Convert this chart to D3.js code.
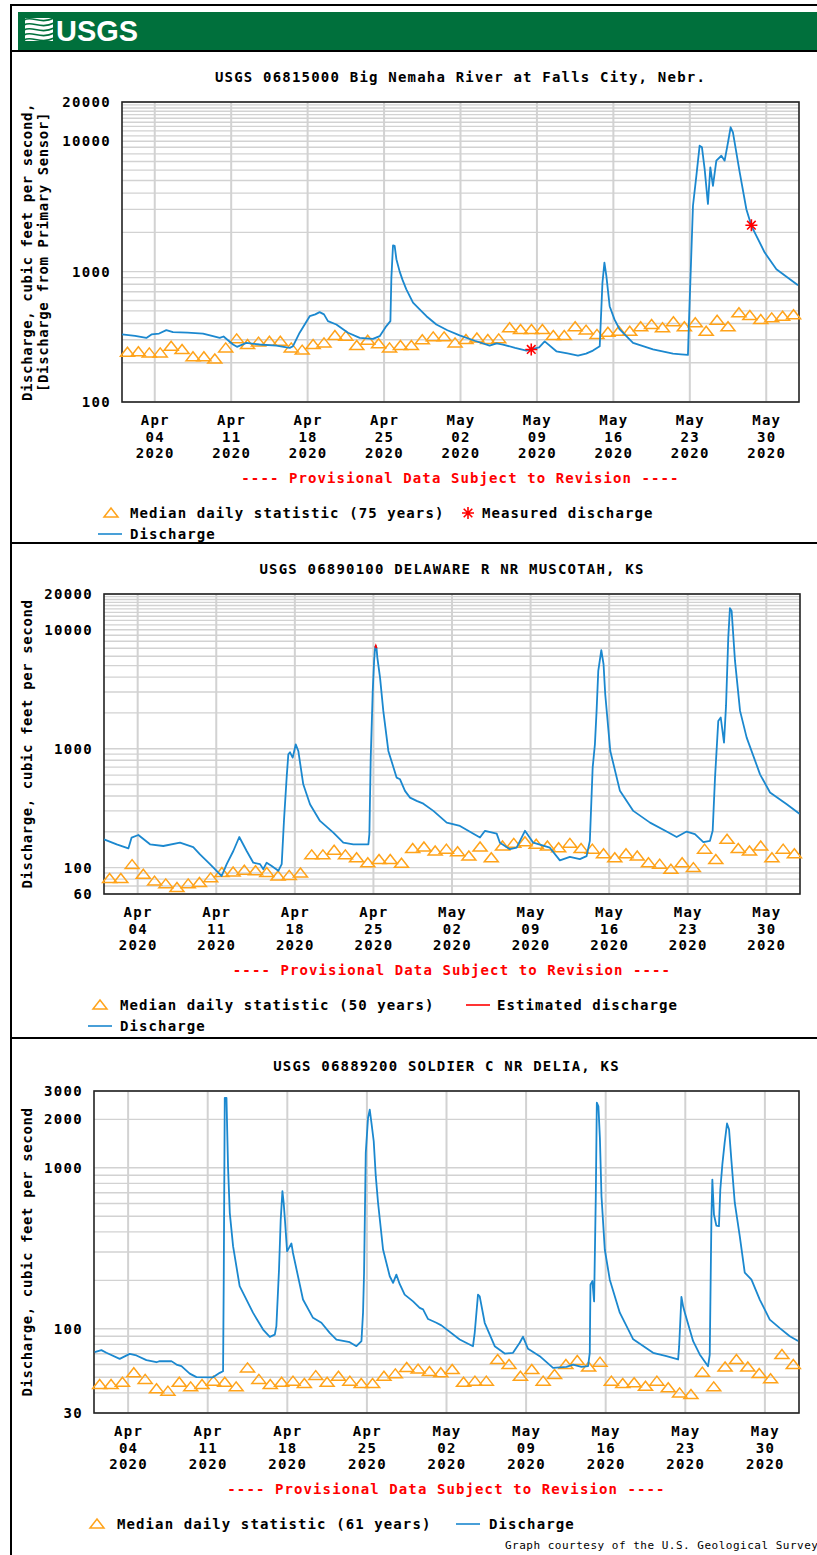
<!DOCTYPE html>
<html>
<head>
    <meta charset="UTF-8">
    <script src="https://d3js.org/d3.v7.min.js"></script>
    <style>
        body { margin: 0; background: #fff; }
        svg text { font-family: "DejaVu Sans Mono", monospace; }
        .axis text { font-size: 14px; font-weight: bold; letter-spacing: 1.3px; fill: #000; }
        .title { font-size: 14px; font-weight: bold; letter-spacing: 1.2px; }
        .ylab { font-size: 14px; font-weight: bold; letter-spacing: 0.6px; }
        .legend { font-size: 14px; font-weight: bold; letter-spacing: 1.1px; }
        .prov { font-size: 14px; font-weight: bold; letter-spacing: 1.1px; fill: #ff0000; }
        .footer { font-size: 11px; letter-spacing: 0.5px; }
        svg text.logo { font-family: "Liberation Sans", Arial, sans-serif; font-weight: bold; font-size: 30px; fill: #fff; }
    </style>
</head>
<body>
<svg id="chart" width="817" height="1555"></svg>
<script>
// ---- data (days counted from Apr 1 2020 00:00) ----
const tickDates = ["2020-04-04", "2020-04-11", "2020-04-18", "2020-04-25", "2020-05-02",
                   "2020-05-09", "2020-05-16", "2020-05-23", "2020-05-30"];

const flow1 = [[0,330],[1.2,322],[2.23,310],[2.7,330],[3.4,335],[4.06,356],[4.67,343],[6,340],[7.42,335],[8.33,320],
    [8.95,310],[9.3,318],[10.17,276],[10.53,265],[11.39,284],[12.6,276],[14.14,271],[15.36,260],[15.66,268],[16.27,340],
    [17.19,455],[17.7,470],[18.1,489],[18.5,470],[18.86,417],[19.63,393],[20.7,340],[21.77,310],[22.98,305],[23.6,320],
    [24.21,382],[24.58,417],[24.67,900],[24.82,1590],[24.97,1575],[25.13,1245],[25.43,1000],[25.7,860],[26.04,731],[26.65,578],[27.26,513],
    [27.88,455],[28.79,393],[29.8,355],[30.92,324],[32.3,295],[33.67,271],[34.3,282],[34.89,276],[36,260],[37.03,248],
    [37.48,253],[38.2,262],[38.71,292],[39.78,245],[40.8,236],[41.76,227],[42.5,235],[43.13,248],[43.75,268],[44,822],
    [44.18,1172],[44.36,925],[44.66,543],[45.1,430],[45.58,360],[46.8,284],[48.63,253],[50.46,235],[51.2,232],[51.83,230],[51.92,405],
    [52.29,3200],[52.6,5430],[52.9,9250],[53.11,9000],[53.36,6120],[53.66,3300],[53.88,6310],[54.12,4550],[54.43,7100],[54.89,7740],
    [55.19,7100],[55.5,9820],[55.74,12800],[55.95,11700],[56.57,5780],[57.18,3010],[57.64,2245],[58.86,1400],[59.93,1042],[61.91,785]];
const median1 = [241,243,238,238,268,253,222,222,214,260, 305,276,288,292,292,260,250,276,284,324,
    320,271,298,280,260,271,271,300,316,316,
    284,302,310,302,305,371,360,360,360,324, 324,378,356,330,343,349,349,378,393,371,
    412,378,405,349,424,378,483,461,429,442, 455,
    467];
const measured1 = [[37.48,253],[57.64,2270]];

const flow2 = [[0,173],[1.13,157],[2.17,145],[2.46,179],[3.06,188],[4.1,157],[5.28,152],[6.77,162],[7.95,149],[8.55,129],
    [9.44,107],[10.03,94],[10.48,85],[10.93,107],[11.52,138],[12.05,181],[12.71,138],[13.3,110],[13.9,107],[14.19,97],
    [14.49,110],[14.94,103],[15.53,94],[15.83,107],[16.03,247],[16.27,571],[16.42,897],[16.57,933],[16.81,841],[17.08,1088],
    [17.31,957],[17.75,502],[18.35,341],[19.24,247],[20.43,197],[21.32,162],[22.21,157],[23.55,157],[23.64,191],[23.76,841],
    [23.94,3060],[24.06,5470],[24.15,7100],[24.21,7330],[24.28,7000],[24.35,5840],[24.59,3960],[24.88,2080],[25.33,957],[26.07,571],
    [26.37,553],[26.81,442],[27.26,388],[27.85,364],[28.45,345],[29.34,300],[30.53,239],[31.71,224],[33.49,179],[33.94,204],
    [34.98,193],[35.27,162],[36.16,143],[36.76,147],[37.5,204],[38.24,162],[39.72,147],[40.61,115],[41.5,123],[42.39,118],
    [42.99,125],[43.28,168],[43.53,693],[43.73,1088],[43.88,2080],[44.03,4510],[44.3,6730],[44.5,5130],[44.65,2870],[45.1,957],
    [45.96,442],[47.15,300],[48.64,239],[50.12,201],[51.01,181],[51.9,201],[52.64,191],[53.39,164],[53.98,168],[54.22,204],
    [54.43,571],[54.72,1710],[54.94,1830],[55.23,1126],[55.41,2290],[55.61,8590],[55.76,15200],[55.91,14400],[56.21,5470],[56.66,2080],
    [57.25,1240],[58.44,609],[59.33,428],[60.82,341],[61.95,284]];
const estimated2 = [[24.15,7100],[24.21,7330],[24.28,7000]];
const median2 = [81,81,106,88,77,73,68,73,75,82, 91,92,95,94,91,85,86,90,128,128,
    140,128,121,110,117,117,109,145,149,138,
    143,136,125,149,121,152,160,165,157,152, 147,160,145,143,131,121,131,125,110,107,
    97,110,100,143,117,173,145,138,152,121, 143,
    131];

const flow3 = [[0.06,71.6],[0.65,73.7],[1.09,71],[2.26,65.1],[3.14,69.9],[3.73,68.3],[4.61,63.9],[5.49,62],[5.78,62.9],[6.81,63],
    [7.25,60],[7.69,58.6],[8.42,52.7],[9.01,50.1],[10.47,50],[11.06,53.3],[11.35,54.5],[11.41,202],[11.5,2720],[11.65,2720],
    [11.7,1900],[11.79,1000],[11.94,525],[12.23,326],[12.81,184],[13.98,126],[14.87,99],[15.46,89.2],[15.9,92],[16.04,104],
    [16.27,233],[16.42,477],[16.57,716],[16.68,607],[16.8,466],[16.98,303],[17.15,318],[17.36,339],[17.5,296],[18.38,152],
    [19.26,117],[20,109],[20.73,94.4],[21.32,85.8],[22.49,82.6],[23.08,78],[23.52,83.8],[23.66,126],[23.75,223],[23.9,1240],
    [24.1,2040],[24.25,2300],[24.4,1900],[24.6,1462],[24.78,887],[24.98,607],[25.42,311],[26.01,212],[26.3,193],[26.59,217],
    [26.88,190],[27.32,163],[28.06,148],[28.64,135],[28.94,132],[29.38,115],[30.11,109],[30.55,105],[32.16,85.8],[33.33,78],
    [33.48,94.4],[33.77,163],[33.92,159],[34.36,109],[35.24,78],[36.12,70.2],[36.85,70.9],[37.44,81.9],[37.73,89.2],[38.17,75.1],
    [39.2,67.6],[40.37,57.2],[41.55,58],[42.13,60],[42.87,58],[43.45,58.6],[43.6,71],[43.66,188],[43.83,198],[43.98,148],
    [44.13,666],[44.22,2540],[44.36,2410],[44.49,1535],[44.63,666],[44.92,311],[45.36,202],[46.24,126],[47.42,86],[49.17,71],
    [50.34,67.6],[51.37,64.5],[51.46,78],[51.66,158],[51.81,138],[51.96,126],[52.69,83.8],[53.27,69.3],[54,58.6],[54.15,69],
    [54.3,500],[54.38,845],[54.52,513],[54.73,438],[54.96,434],[55.08,733],[55.26,1050],[55.46,1430],[55.67,1885],[55.85,1730],
    [56.06,1100],[56.35,607],[56.79,376],[57.23,223],[57.82,202],[58.55,152],[59.43,114],[60.31,101],[61.19,90],[61.92,84]];
const median3 = [45.1,45.1,46.6,53.3,48.5,42.4,41.0,46.6,43.6,45.1, 47.3,46.6,43.6,57.2,48.5,45.1,46.6,47.3,45.7,51.2,
    46.6,50.8,47.3,45.7,45.7,50.8,52.5,57.5,56.2,54.3,
    53.3,55.9,46.6,47.3,47.3,64.5,60,50.8,55.9,47.3, 52,60,63.5,57.9,62.1,47.3,45.7,46.2,44,47.3,
    43,40,39.1,53.8,43.6,57.9,64.5,57.9,52.8,48.9, 69.3,
    60];

const yTicks1 = [100, 1000, 10000, 20000];
const yTicks2 = [60, 100, 1000, 10000, 20000];
const yTicks3 = [30, 100, 1000, 2000, 3000];

// ---- helpers ----
const startDate = new Date(2020, 3, 1);
const endDate = new Date(2020, 5, 2);
const toDate = d => new Date(startDate.getTime() + d * 864e5);
const parse = d3.timeParse("%Y-%m-%d");
const fmtMon = d3.timeFormat("%b"), fmtDay = d3.timeFormat("%d"), fmtYear = d3.timeFormat("%Y");

const svg = d3.select("#chart");
svg.append("rect").attr("width", 817).attr("height", 1555).attr("fill", "#fff");

const triPath = "M-7,4L0,-5L7,4Z";
const starPath = "M-6,0H6M0,-6V6M-4.3,-4.3L4.3,4.3M-4.3,4.3L4.3,-4.3";
const blue = "#1b88cf", orange = "#ffa31a";

function drawPanel(p) {
    const g = svg.append("g");
    const x = d3.scaleTime().domain([startDate, endDate]).range([p.x0, p.x1]);
    const y = d3.scaleLog().domain(p.yDomain).range([p.y1, p.y0]);

    // horizontal grid
    const grid = y.ticks().concat(p.fine ? d3.range(11000, 20000, 1000) : []);
    g.append("g").selectAll("line").data(grid).join("line")
        .attr("x1", p.x0).attr("x2", p.x1)
        .attr("y1", d => y(d)).attr("y2", d => y(d))
        .attr("stroke", "#d2d2d2").attr("stroke-width", 1.4);

    // vertical grid
    const ticks = tickDates.map(parse);
    g.append("g").selectAll("line").data(ticks).join("line")
        .attr("x1", d => x(d)).attr("x2", d => x(d))
        .attr("y1", p.y0).attr("y2", p.y1)
        .attr("stroke", "#d2d2d2").attr("stroke-width", 2);

    // y axis
    g.append("g").attr("class", "axis")
        .attr("transform", `translate(${p.x0},0)`)
        .call(d3.axisLeft(y).tickValues(p.yTicks).tickFormat(d3.format("d")).tickSize(0).tickPadding(11))
        .call(a => a.select(".domain").remove())
        .attr("font-family", null).attr("font-size", null);

    // x axis, three line labels
    g.append("g").attr("class", "axis")
        .attr("transform", `translate(0,${p.y1})`)
        .call(d3.axisBottom(x).tickValues(ticks).tickSize(0))
        .call(a => a.select(".domain").remove())
        .attr("font-family", null).attr("font-size", null)
        .selectAll(".tick text").text(null).attr("y", 0).attr("dy", null)
        .selectAll("tspan").data(d => [fmtMon(d), fmtDay(d), fmtYear(d)]).join("tspan")
        .attr("x", 0).attr("y", (t, i) => 23 + i * 16.5).text(t => t);

    // plot frame
    g.append("rect").attr("x", p.x0).attr("y", p.y0)
        .attr("width", p.x1 - p.x0).attr("height", p.y1 - p.y0)
        .attr("fill", "none").attr("stroke", "#222").attr("stroke-width", 1.6);

    const line = d3.line().x(d => x(toDate(d[0]))).y(d => y(d[1]));

    // median triangles
    g.append("g").selectAll("path").data(p.median).join("path")
        .attr("transform", (v, i) => `translate(${x(toDate(i + 0.5))},${y(v)})`)
        .attr("d", triPath).attr("fill", "none")
        .attr("stroke", orange).attr("stroke-width", 1.5);

    g.append("path").datum(p.flow).attr("d", line)
        .attr("fill", "none").attr("stroke", blue).attr("stroke-width", 1.8)
        .attr("stroke-linejoin", "round");

    if (p.estimated) {
        g.append("path").datum(p.estimated).attr("d", line)
            .attr("fill", "none").attr("stroke", "#ff0000").attr("stroke-width", 1.8);
    }
    if (p.measured) {
        g.append("g").selectAll("path").data(p.measured).join("path")
            .attr("transform", d => `translate(${x(toDate(d[0]))},${y(d[1])})`)
            .attr("d", starPath).attr("stroke", "#ff0000").attr("stroke-width", 1.6);
    }

    const cx = (p.x0 + p.x1) / 2;
    g.append("text").attr("class", "title").attr("x", cx).attr("y", p.y0 - 20)
        .attr("text-anchor", "middle").text(p.title);
    g.append("text").attr("class", "prov").attr("x", cx).attr("y", p.y1 + 81)
        .attr("text-anchor", "middle").text("---- Provisional Data Subject to Revision ----");

    // y label
    const cy = (p.y0 + p.y1) / 2;
    p.ylabel.forEach((t, i) => {
        g.append("text").attr("class", "ylab")
            .attr("transform", `translate(${32 + i * 16},${cy}) rotate(-90)`)
            .attr("text-anchor", "middle").text(t);
    });

    // legend
    p.legend.forEach(it => {
        const ly = p.y1 + 116 + it.row * 21;
        if (it.type === "tri") {
            g.append("path").attr("d", triPath).attr("transform", `translate(${it.sx},${ly - 5})`)
                .attr("fill", "none").attr("stroke", orange).attr("stroke-width", 1.5);
        } else if (it.type === "star") {
            g.append("path").attr("d", starPath).attr("transform", `translate(${it.sx},${ly - 5})`)
                .attr("stroke", "#ff0000").attr("stroke-width", 1.6);
        } else {
            g.append("line").attr("x1", it.sx - 12).attr("x2", it.sx + 12)
                .attr("y1", ly - 5).attr("y2", ly - 5)
                .attr("stroke", it.color).attr("stroke-width", 1.6);
        }
        g.append("text").attr("class", "legend").attr("x", it.tx).attr("y", ly).text(it.label);
    });
}

// ---- header ----
svg.append("rect").attr("x", 18).attr("y", 12).attr("width", 799).attr("height", 38).attr("fill", "#00703c");
const logo = svg.append("g");
logo.append("rect").attr("x", 25).attr("y", 18).attr("width", 28).attr("height", 23).attr("fill", "#fff");
[20, 25, 30, 35, 40].forEach(yy => {
    logo.append("path")
        .attr("d", `M24,${yy} C32,${yy - 5} 40,${yy + 5} 54,${yy - 2}`)
        .attr("fill", "none").attr("stroke", "#00703c").attr("stroke-width", 1.6);
});
svg.append("text").attr("class", "logo").attr("x", 56).attr("y", 41)
    .attr("textLength", 82).attr("lengthAdjust", "spacingAndGlyphs").text("USGS");

// frame lines
svg.append("line").attr("x1", 11).attr("x2", 817).attr("y1", 5).attr("y2", 5).attr("stroke", "#000").attr("stroke-width", 2);
svg.append("line").attr("x1", 11).attr("x2", 11).attr("y1", 4).attr("y2", 1555).attr("stroke", "#000").attr("stroke-width", 2);
[51, 543, 1038].forEach(yy => {
    svg.append("line").attr("x1", 11).attr("x2", 817).attr("y1", yy).attr("y2", yy).attr("stroke", "#000").attr("stroke-width", 2);
});

drawPanel({
    x0: 122, x1: 799, y0: 102, y1: 402, yDomain: [100, 20000], yTicks: yTicks1, fine: true,
    flow: flow1, median: median1, measured: measured1,
    title: "USGS 06815000 Big Nemaha River at Falls City, Nebr.",
    ylabel: ["Discharge, cubic feet per second,", "[Discharge from Primary Sensor]"],
    legend: [
        {type: "tri", row: 0, sx: 111, tx: 130, label: "Median daily statistic (75 years)"},
        {type: "star", row: 0, sx: 468, tx: 482, label: "Measured discharge"},
        {type: "line", row: 1, sx: 110, tx: 130, color: blue, label: "Discharge"}
    ]
});

drawPanel({
    x0: 104, x1: 800, y0: 594, y1: 894, yDomain: [60, 20000], yTicks: yTicks2, fine: true,
    flow: flow2, median: median2, estimated: estimated2,
    title: "USGS 06890100 DELAWARE R NR MUSCOTAH, KS",
    ylabel: ["Discharge, cubic feet per second"],
    legend: [
        {type: "tri", row: 0, sx: 100, tx: 120, label: "Median daily statistic (50 years)"},
        {type: "line", row: 0, sx: 478, tx: 497, color: "#ff0000", label: "Estimated discharge"},
        {type: "line", row: 1, sx: 100, tx: 120, color: blue, label: "Discharge"}
    ]
});

drawPanel({
    x0: 94, x1: 799, y0: 1091, y1: 1413, yDomain: [30, 3000], yTicks: yTicks3, fine: false,
    flow: flow3, median: median3,
    title: "USGS 06889200 SOLDIER C NR DELIA, KS",
    ylabel: ["Discharge, cubic feet per second"],
    legend: [
        {type: "tri", row: 0, sx: 97, tx: 117, label: "Median daily statistic (61 years)"},
        {type: "line", row: 0, sx: 468, tx: 489, color: blue, label: "Discharge"}
    ]
});

svg.append("text").attr("class", "footer").attr("x", 505).attr("y", 1549)
    .text("Graph courtesy of the U.S. Geological Survey");
</script>
</body>
</html>
